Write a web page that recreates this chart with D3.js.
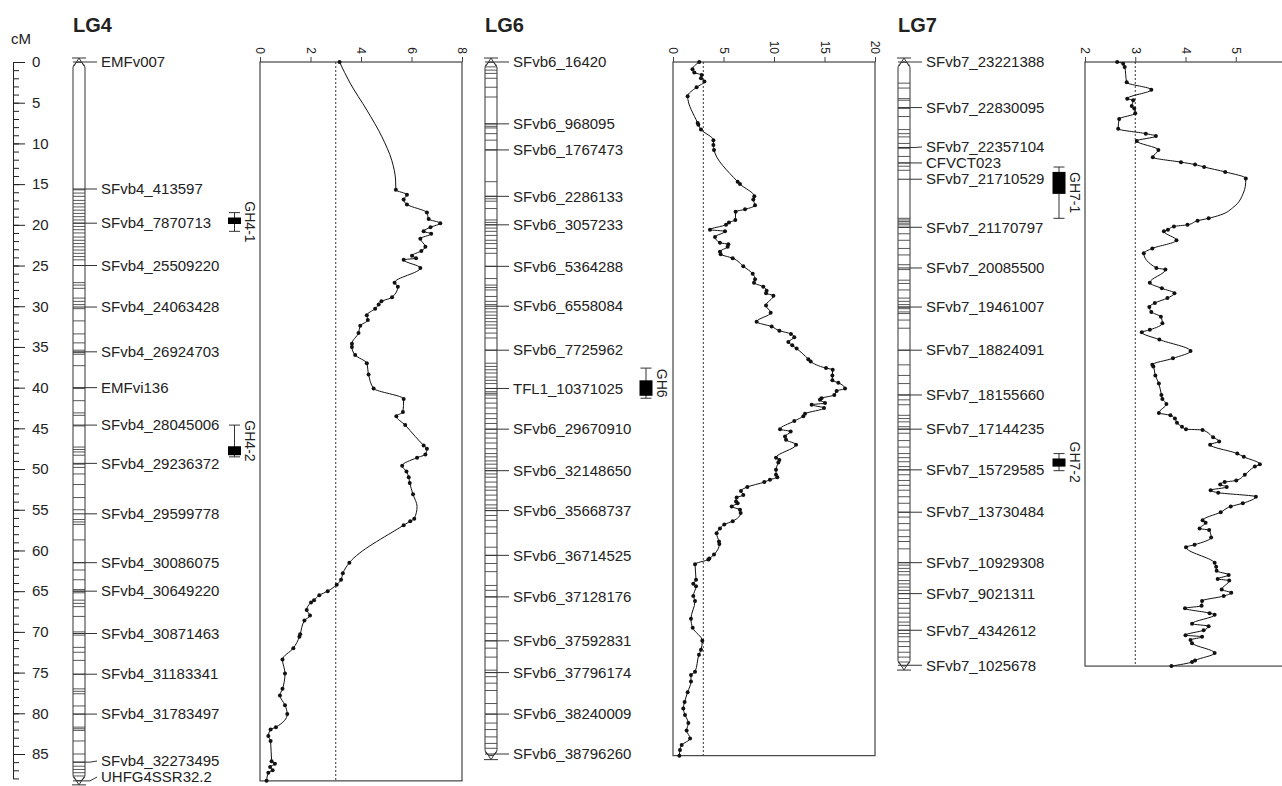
<!DOCTYPE html>
<html>
<head>
<meta charset="utf-8">
<script src="https://cdn.jsdelivr.net/npm/d3@7"></script>
<style>
  body { margin: 0; background: #fff; }
  svg { display: block; font-family: "Liberation Sans", Arial, Helvetica, sans-serif; }
</style>
</head>
<body>
<svg id="qtlMap" width="1282" height="786"></svg>
<script>
// ---------- data ----------
const cmTicks = [0, 5, 10, 15, 20, 25, 30, 35, 40, 45, 50, 55, 60, 65, 70, 75, 80, 85];
const lodThreshold = 3;

// LG4
const lg4Markers = ["EMFv007", "SFvb4_413597", "SFvb4_7870713", "SFvb4_25509220", "SFvb4_24063428",
  "SFvb4_26924703", "EMFvi136", "SFvb4_28045006", "SFvb4_29236372", "SFvb4_29599778", "SFvb4_30086075",
  "SFvb4_30649220", "SFvb4_30871463", "SFvb4_31183341", "SFvb4_31783497", "SFvb4_32273495", "UHFG4SSR32.2"];
const lg4MarkerPos = [0, 15.6, 19.8, 25.0, 30.1, 35.6, 40.0, 44.6, 49.3, 55.5, 61.5, 65.0, 70.2, 75.2, 80.1, 86.0, 88.3];
const lg4BarLines = [15.7, 16.1, 16.5, 17.0, 17.4, 17.8, 18.2, 18.6, 19.0, 19.4, 19.8, 20.2, 20.6, 21.0, 21.5, 21.9,
  22.3, 22.7, 23.1, 23.5, 23.9, 24.3, 25.0, 27.1, 27.4, 27.8, 29.0, 29.4, 29.8, 30.3, 31.8, 33.4, 34.5, 35.4, 35.7,
  35.9, 37.3, 40.1, 41.6, 43.1, 43.4, 44.7, 47.3, 47.6, 47.9, 48.3, 49.4, 49.8, 50.6, 51.9, 53.5, 55.0, 56.2, 56.5,
  56.8, 58.7, 61.5, 62.4, 63.6, 64.8, 65.0, 65.2, 66.1, 66.5, 66.9, 68.1, 70.0, 70.2, 70.4, 71.9, 72.5, 73.5, 75.2,
  77.0, 77.3, 77.6, 79.1, 80.1, 81.7, 81.9, 82.1, 83.4, 85.0, 86.0, 86.5, 86.9, 87.3, 87.7];
const lg4Length = 88.3;
const lg4LodDomain = [0, 8];
const lg4LodTicks = [0, 2, 4, 6, 8];
const lg4Dots = [[0.0, 3.15], [15.7, 5.38], [16.3, 5.82], [16.9, 5.69], [17.5, 5.82], [18.5, 6.61], [19.3, 6.68],
  [19.8, 7.14], [20.3, 6.75], [20.8, 6.48], [21.1, 6.78], [21.7, 6.35], [22.7, 6.55], [23.2, 6.39], [23.8, 6.02],
  [24.1, 6.18], [24.3, 5.69], [25.3, 6.35], [27.1, 5.33], [27.6, 5.46], [28.9, 5.23], [29.4, 4.81], [29.8, 4.70],
  [30.3, 4.56], [31.1, 4.23], [31.7, 4.27], [32.4, 3.97], [33.3, 3.90], [34.6, 3.64], [35.0, 3.64], [36.0, 3.77],
  [37.0, 4.23], [38.4, 4.30], [40.1, 4.50], [41.4, 5.69], [43.0, 5.66], [43.5, 5.40], [44.6, 5.75], [47.1, 6.48],
  [47.5, 6.61], [48.2, 6.55], [48.6, 6.22], [49.6, 5.63], [50.3, 5.80], [51.0, 5.89], [51.7, 5.93], [53.1, 6.06],
  [56.1, 6.11], [56.4, 5.95], [56.9, 5.69], [61.5, 3.54], [62.8, 3.28], [63.6, 3.21], [64.2, 3.04], [65.0, 2.68],
  [65.5, 2.35], [66.1, 2.14], [66.4, 2.02], [67.3, 1.85], [68.0, 1.98], [68.6, 1.76], [70.3, 1.59], [70.6, 1.56],
  [72.0, 1.32], [73.4, 0.89], [75.1, 0.99], [77.0, 0.89], [77.8, 0.79], [79.0, 0.99], [80.1, 1.08], [81.7, 0.63],
  [82.0, 0.42], [82.8, 0.33], [83.4, 0.42], [85.9, 0.46], [86.2, 0.59], [86.6, 0.40], [87.0, 0.50], [87.3, 0.33],
  [88.3, 0.26]];
const lg4Bends = [[2.6, 3.57], [5.9, 4.23], [9.2, 4.83], [12.1, 5.22], [14.5, 5.37], [46.0, 6.15], [54.6, 6.22]];

// LG6
const lg6Markers = ["SFvb6_16420", "SFvb6_968095", "SFvb6_1767473", "SFvb6_2286133", "SFvb6_3057233",
  "SFvb6_5364288", "SFvb6_6558084", "SFvb6_7725962", "TFL1_10371025", "SFvb6_29670910", "SFvb6_32148650",
  "SFvb6_35668737", "SFvb6_36714525", "SFvb6_37128176", "SFvb6_37592831", "SFvb6_37796174", "SFvb6_38240009",
  "SFvb6_38796260"];
const lg6MarkerPos = [0, 7.6, 10.8, 16.5, 20.0, 25.1, 30.0, 35.4, 40.1, 45.1, 50.2, 55.1, 60.6, 65.7, 71.1, 75.0, 80.1, 85.0];
const lg6BarLines = [0.6, 1.0, 1.4, 2.0, 3.1, 4.3, 7.6, 7.9, 8.1, 8.8, 9.6, 10.8, 14.7, 16.5, 16.8, 17.1, 18.0, 19.4,
  19.7, 20.0, 20.4, 20.8, 21.3, 21.9, 22.3, 22.9, 23.5, 25.1, 26.6, 27.4, 27.7, 28.0, 28.8, 29.4, 29.8, 30.3, 30.7,
  31.1, 31.5, 31.9, 32.3, 32.7, 33.3, 33.9, 35.4, 37.0, 37.4, 37.8, 38.2, 38.7, 39.1, 39.5, 40.1, 40.5, 40.7, 40.9,
  41.3, 41.9, 42.5, 43.2, 43.8, 44.4, 45.1, 45.6, 46.2, 46.8, 47.5, 48.1, 48.5, 49.0, 49.4, 49.9, 50.2, 50.6, 51.0,
  51.6, 52.2, 52.6, 53.2, 53.8, 54.4, 54.8, 55.1, 55.7, 56.3, 57.1, 57.9, 59.6, 60.6, 61.6, 62.6, 64.3, 64.9, 65.7,
  66.9, 68.2, 69.0, 70.2, 71.1, 72.0, 73.1, 74.7, 75.0, 75.5, 76.3, 77.2, 78.8, 80.1, 81.2, 82.0, 82.9, 83.7, 84.3];
const lg6Length = 85.2;
const lg6LodDomain = [0, 20];
const lg6LodTicks = [0, 5, 10, 15, 20];
const lg6Dots = [[0.0, 2.6], [0.9, 1.93], [1.3, 2.11], [1.6, 2.84], [2.0, 2.77], [2.4, 3.11], [3.1, 2.34], [4.2, 1.45],
  [7.5, 2.44], [7.7, 2.51], [8.3, 2.77], [9.6, 4.0], [10.2, 4.0], [10.8, 4.06], [14.7, 6.4], [15.0, 6.63], [16.5, 8.05],
  [16.9, 7.95], [17.6, 8.12], [18.1, 7.13], [18.4, 6.2], [19.4, 6.17], [19.7, 5.54], [20.0, 5.25], [20.6, 3.66],
  [20.8, 5.15], [21.5, 4.16], [22.2, 4.65], [22.4, 5.48], [22.7, 5.41], [23.3, 4.65], [23.6, 4.72], [24.1, 5.91],
  [25.1, 6.96], [26.0, 7.89], [26.7, 8.12], [27.1, 8.02], [27.6, 8.94], [28.1, 9.27], [28.4, 9.21], [28.7, 9.94],
  [29.9, 9.21], [30.8, 9.67], [31.9, 8.28], [32.5, 9.77], [33.0, 10.53], [33.4, 11.68], [33.8, 12.01], [34.4, 11.42],
  [34.8, 11.81], [35.2, 12.24], [36.5, 13.4], [36.8, 13.63], [37.6, 15.15], [37.8, 15.81], [38.5, 15.78], [39.1, 15.78],
  [39.4, 16.37], [40.1, 17.03], [40.4, 16.2], [40.9, 15.97], [41.3, 14.7], [41.5, 14.55], [41.9, 15.05], [42.1, 13.73],
  [42.5, 14.95], [43.2, 13.07], [43.5, 12.9], [44.1, 12.01], [45.1, 10.6], [45.4, 11.65], [46.0, 11.09], [46.4, 11.19],
  [47.0, 12.18], [48.6, 10.2], [48.9, 10.53], [49.2, 10.43], [50.1, 10.2], [50.7, 10.2], [51.0, 10.33], [51.3, 9.6],
  [51.6, 9.04], [52.2, 7.36], [52.7, 6.73], [53.2, 6.96], [53.5, 6.3], [54.0, 6.24], [54.2, 6.4], [54.6, 5.81],
  [55.0, 6.63], [55.4, 6.7], [56.4, 5.91], [56.8, 5.08], [57.3, 4.65], [57.9, 4.32], [58.9, 4.55], [59.2, 4.59],
  [60.5, 4.06], [61.0, 3.6], [61.1, 3.5], [61.7, 2.18], [63.6, 2.28], [64.1, 2.01], [64.4, 2.28], [65.6, 2.01],
  [66.2, 2.18], [68.4, 1.78], [69.5, 1.95], [71.1, 2.9], [72.2, 2.77], [72.8, 2.57], [74.9, 2.18], [75.3, 1.78],
  [76.1, 1.78], [77.4, 1.45], [78.6, 1.15], [79.4, 1.02], [80.2, 1.19], [81.2, 1.52], [82.1, 1.35], [83.1, 1.69],
  [83.9, 0.86], [84.5, 0.69], [85.2, 0.63]];
const lg6Bends = [];

// LG7
const lg7Markers = ["SFvb7_23221388", "SFvb7_22830095", "SFvb7_22357104", "CFVCT023", "SFvb7_21710529",
  "SFvb7_21170797", "SFvb7_20085500", "SFvb7_19461007", "SFvb7_18824091", "SFvb7_18155660", "SFvb7_17144235",
  "SFvb7_15729585", "SFvb7_13730484", "SFvb7_10929308", "SFvb7_9021311", "SFvb7_4342612", "SFvb7_1025678"];
const lg7MarkerPos = [0, 5.6, 10.5, 12.4, 14.4, 20.3, 25.3, 30.1, 35.4, 40.9, 45.1, 50.1, 55.3, 61.5, 65.3, 69.8, 74.1];
const lg7BarLines = [2.6, 3.2, 4.5, 4.7, 5.7, 6.7, 8.3, 8.8, 9.2, 10.0, 10.6, 11.6, 12.4, 12.8, 13.3, 19.2, 19.4, 19.6,
  19.8, 20.0, 20.3, 21.1, 21.9, 22.9, 23.7, 24.9, 25.5, 26.8, 27.2, 28.0, 29.0, 29.4, 29.8, 30.1, 30.3, 30.7, 30.9,
  31.7, 32.7, 35.4, 37.2, 38.5, 39.5, 40.9, 41.5, 42.1, 43.4, 43.8, 44.2, 44.8, 45.1, 45.6, 46.5, 47.3, 48.1, 48.6,
  49.1, 49.7, 50.1, 50.7, 51.4, 52.0, 52.6, 53.4, 54.2, 55.3, 55.9, 56.7, 57.5, 58.3, 58.9, 59.8, 61.5, 61.8, 62.2,
  62.6, 63.0, 63.7, 64.1, 64.5, 64.9, 65.3, 65.9, 66.5, 67.1, 67.7, 68.2, 68.8, 69.2, 69.8, 70.2, 70.6, 71.2, 71.8,
  72.5, 73.1, 73.7];
const lg7Length = 74.2;
const lg7LodDomain = [2, 6];
const lg7LodTicks = [2, 3, 4, 5];
const lg7Dots = [[0.0, 2.64], [0.2, 2.76], [0.6, 2.79], [2.5, 2.83], [3.4, 3.32], [4.5, 2.84], [4.7, 2.96], [5.4, 2.93],
  [5.7, 2.98], [6.3, 3.0], [7.0, 2.68], [8.2, 2.66], [8.8, 3.21], [9.1, 3.41], [9.7, 3.03], [10.8, 3.46], [11.7, 3.35],
  [12.3, 3.91], [12.6, 4.19], [12.9, 4.37], [13.5, 4.79], [14.3, 5.20], [19.2, 4.46], [19.5, 4.24], [20.0, 4.04],
  [20.2, 3.77], [20.6, 3.65], [20.8, 3.57], [21.9, 3.82], [22.9, 3.34], [23.5, 3.17], [25.3, 3.42], [25.5, 3.60],
  [27.1, 3.29], [27.8, 3.53], [28.4, 3.78], [29.0, 3.64], [29.6, 3.39], [30.1, 3.28], [30.7, 3.32], [31.3, 3.51],
  [32.1, 3.54], [32.9, 3.29], [33.2, 3.13], [34.1, 3.48], [35.5, 4.10], [36.4, 3.75], [37.2, 3.34], [37.4, 3.36],
  [38.5, 3.40], [39.5, 3.47], [40.9, 3.52], [41.4, 3.54], [42.0, 3.62], [43.1, 3.47], [43.4, 3.70], [43.8, 3.79],
  [44.3, 3.83], [44.8, 3.93], [45.1, 4.01], [45.2, 4.34], [46.1, 4.55], [46.6, 4.67], [47.0, 4.49], [48.1, 5.03],
  [48.5, 5.16], [49.4, 5.48], [49.7, 5.38], [50.7, 5.18], [51.4, 5.01], [51.6, 4.78], [51.9, 4.69], [52.2, 4.82],
  [52.6, 4.50], [52.9, 4.65], [53.4, 5.40], [54.2, 5.14], [54.6, 4.90], [55.3, 4.70], [56.3, 4.34], [56.6, 4.40],
  [57.3, 4.28], [57.5, 4.47], [58.4, 4.51], [59.3, 4.18], [59.6, 4.01], [61.5, 4.58], [62.0, 4.61], [62.5, 4.62],
  [63.0, 4.86], [63.5, 4.64], [63.7, 4.87], [64.8, 4.72], [65.2, 4.91], [65.6, 4.76], [66.2, 4.33], [66.8, 4.32],
  [67.1, 3.99], [67.7, 4.48], [67.9, 4.58], [69.0, 4.13], [69.3, 4.46], [69.8, 4.36], [70.4, 4.00], [70.6, 4.33],
  [71.0, 4.10], [71.4, 4.13], [72.6, 4.58], [73.5, 4.19], [73.7, 4.13], [74.2, 3.72]];
const lg7Bends = [[15.3, 5.19], [16.1, 5.15], [17.8, 4.96], [18.8, 4.69]];

// QTL intervals (cM)
const qtlNames = ["GH4-1", "GH4-2", "GH6", "GH7-1", "GH7-2"];
const qtlGroup = ["LG4", "LG4", "LG6", "LG7", "LG7"];
const qtlWhiskerTop = [18.5, 44.6, 37.6, 12.9, 48.1];
const qtlBoxTop = [19.1, 47.2, 39.1, 13.5, 48.7];
const qtlBoxBottom = [19.9, 48.3, 41.0, 16.2, 49.7];
const qtlWhiskerBottom = [20.8, 48.5, 41.3, 19.2, 50.2];

// ---------- drawing ----------
const svg = d3.select('#qtlMap');
const ink = '#222';
const barW = 12;
const H = 786;
const labelGap = 16;

const cm = d3.scaleLinear().domain([0, 85]).range([62, 754]);

// shared cM ruler
const ruler = svg.append('g').attr('transform', 'translate(13,0)');
const rulerScale = cm.copy().domain([0, 88]).range([cm(0), cm(88)]);
ruler.append('g')
  .call(d3.axisRight(rulerScale).tickValues(d3.range(0, 89)).tickSize(6).tickSizeOuter(0).tickFormat(''))
  .call(g => g.selectAll('line').attr('stroke', ink))
  .call(g => g.select('.domain').attr('stroke', ink));
ruler.append('g')
  .call(d3.axisRight(rulerScale).tickValues(cmTicks).tickSize(12).tickPadding(7).tickSizeOuter(0))
  .call(g => g.select('.domain').remove())
  .call(g => g.selectAll('line').attr('stroke', ink))
  .call(g => g.selectAll('text').attr('fill', ink).style('font-size', '15px').style('font-family', null));
svg.append('text').attr('x', 11).attr('y', 44).attr('fill', ink)
  .style('font-size', '15px').text('cM');

const groups = [
  { title: 'LG4', markers: lg4Markers, pos: lg4MarkerPos, lines: lg4BarLines, len: lg4Length,
    dots: lg4Dots, bends: lg4Bends, domain: lg4LodDomain, ticks: lg4LodTicks, barX: 73, qtlX: 234.5, plot: [260, 462] },
  { title: 'LG6', markers: lg6Markers, pos: lg6MarkerPos, lines: lg6BarLines, len: lg6Length,
    dots: lg6Dots, bends: lg6Bends, domain: lg6LodDomain, ticks: lg6LodTicks, barX: 485, qtlX: 646, plot: [673, 875] },
  { title: 'LG7', markers: lg7Markers, pos: lg7MarkerPos, lines: lg7BarLines, len: lg7Length,
    dots: lg7Dots, bends: lg7Bends, domain: lg7LodDomain, ticks: lg7LodTicks, barX: 898, qtlX: 1059, plot: [1085, 1286] }
];

groups.forEach((grp, gi) => {
  const G = svg.append('g');
  const x0 = grp.barX, x1 = grp.barX + barW, xc = grp.barX + barW / 2;
  const yTop = cm(0), yBot = cm(grp.len);

  G.append('text').attr('x', x0).attr('y', 32).attr('fill', ink)
    .style('font-size', '20px').style('font-weight', 'bold').text(grp.title);

  // chromosome bar
  const clipId = 'bar' + gi;
  G.append('clipPath').attr('id', clipId).append('rect')
    .attr('x', x0).attr('y', yTop).attr('width', barW).attr('height', yBot - yTop).attr('rx', 6);
  G.append('rect').attr('x', x0).attr('y', yTop).attr('width', barW).attr('height', yBot - yTop)
    .attr('rx', 6).attr('fill', '#fff').attr('stroke', '#333').attr('stroke-width', 1);
  G.append('g').attr('clip-path', `url(#${clipId})`)
    .selectAll('line').data(grp.lines).join('line')
    .attr('x1', x0).attr('x2', x1).attr('y1', d => cm(d)).attr('y2', d => cm(d))
    .attr('stroke', '#444').attr('stroke-width', 0.9);
  G.append('path')
    .attr('d', `M${x0 - 1},${yTop - 4}H${x1 + 1}M${x0 + 1},${yTop + 4}L${xc},${yTop - 4}L${x1 - 1},${yTop + 4}` +
      `M${x0 - 1},${yBot + 4}H${x1 + 1}M${x0 + 1},${yBot - 4}L${xc},${yBot + 4}L${x1 - 1},${yBot - 4}`)
    .attr('fill', 'none').attr('stroke', '#333').attr('stroke-width', 1);

  // labelled markers: keep labels on the page and apart, with slanted connectors where moved
  const labelYs = grp.pos.map(cm);
  for (let i = labelYs.length - 1; i >= 0; i--) {
    const limit = i === labelYs.length - 1 ? H - 9 : labelYs[i + 1] - labelGap;
    labelYs[i] = Math.min(labelYs[i], limit);
  }
  G.selectAll('path.mk').data(grp.pos).join('path').attr('class', 'mk')
    .attr('d', (d, i) => `M${x0},${cm(d)}H${x1 + 5}L${x1 + 12},${labelYs[i]}`)
    .attr('fill', 'none').attr('stroke', '#333').attr('stroke-width', 1);
  G.selectAll('text.mk').data(grp.markers).join('text').attr('class', 'mk')
    .attr('x', x1 + 16).attr('y', (d, i) => labelYs[i]).attr('dy', '0.35em')
    .attr('fill', ink).style('font-size', '15px').text(d => d);

  // LOD profile
  const lodX = d3.scaleLinear().domain(grp.domain).range(grp.plot);
  G.append('rect').attr('x', grp.plot[0]).attr('y', yTop)
    .attr('width', grp.plot[1] - grp.plot[0]).attr('height', yBot - yTop)
    .attr('fill', 'none').attr('stroke', '#444').attr('stroke-width', 1.2);
  G.append('g').attr('transform', `translate(0,${yTop})`)
    .call(d3.axisTop(lodX).tickValues(grp.ticks).tickSize(5).tickSizeOuter(0).tickFormat(d3.format('d')))
    .call(g => g.select('.domain').remove())
    .call(g => g.selectAll('line').attr('stroke', '#444'))
    .call(g => g.selectAll('text')
      .attr('x', -8).attr('y', 0).attr('dy', '0.35em')
      .attr('text-anchor', 'end').attr('transform', 'rotate(90)')
      .attr('fill', ink).style('font-size', '12px').style('font-family', null));
  G.append('line').attr('x1', lodX(lodThreshold)).attr('x2', lodX(lodThreshold))
    .attr('y1', yTop).attr('y2', yBot)
    .attr('stroke', '#333').attr('stroke-width', 1).attr('stroke-dasharray', '2,2');

  const pts = grp.dots.concat(grp.bends).sort((a, b) => a[0] - b[0]);
  const line = d3.line().x(d => lodX(d[1])).y(d => cm(d[0])).curve(d3.curveMonotoneY);
  G.append('path').datum(pts).attr('d', line)
    .attr('fill', 'none').attr('stroke', '#111').attr('stroke-width', 1);
  G.selectAll('circle').data(grp.dots).join('circle')
    .attr('cx', d => lodX(d[1])).attr('cy', d => cm(d[0])).attr('r', 2).attr('fill', '#111');

  // QTL intervals
  const q = qtlNames.map((n, i) => i).filter(i => qtlGroup[i] === grp.title);
  const Q = G.selectAll('g.qtl').data(q).join('g').attr('class', 'qtl');
  Q.append('line').attr('x1', grp.qtlX).attr('x2', grp.qtlX)
    .attr('y1', i => cm(qtlWhiskerTop[i])).attr('y2', i => cm(qtlWhiskerBottom[i]))
    .attr('stroke', '#333');
  Q.append('line').attr('x1', grp.qtlX - 5.5).attr('x2', grp.qtlX + 5.5)
    .attr('y1', i => cm(qtlWhiskerTop[i])).attr('y2', i => cm(qtlWhiskerTop[i])).attr('stroke', '#333');
  Q.append('line').attr('x1', grp.qtlX - 5.5).attr('x2', grp.qtlX + 5.5)
    .attr('y1', i => cm(qtlWhiskerBottom[i])).attr('y2', i => cm(qtlWhiskerBottom[i])).attr('stroke', '#333');
  Q.append('rect').attr('x', grp.qtlX - 6.5).attr('width', 13)
    .attr('y', i => cm(qtlBoxTop[i])).attr('height', i => cm(qtlBoxBottom[i]) - cm(qtlBoxTop[i]))
    .attr('fill', '#000');
  Q.append('text')
    .attr('transform', i => `translate(${grp.qtlX + 10.5},${(cm(qtlWhiskerTop[i]) + cm(qtlWhiskerBottom[i])) / 2}) rotate(90)`)
    .attr('text-anchor', 'middle').attr('fill', ink).style('font-size', '14px')
    .text(i => qtlNames[i]);
});
</script>
</body>
</html>
